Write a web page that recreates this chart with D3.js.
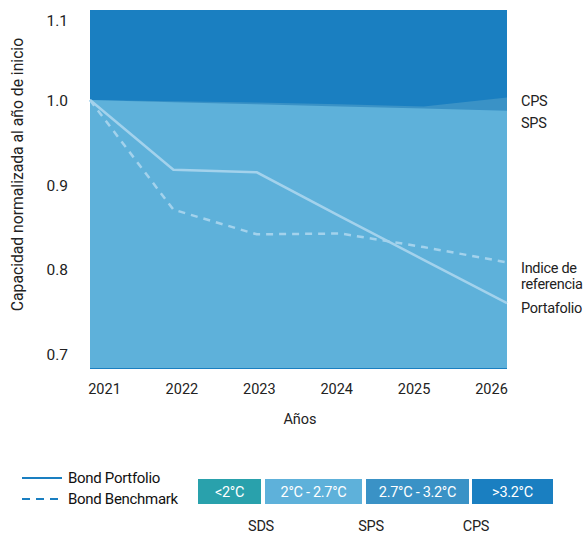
<!DOCTYPE html>
<html>
<head>
<meta charset="utf-8">
<script src="https://cdn.jsdelivr.net/npm/d3@7"></script>
<style>
  body { margin: 0; background: #fff; }
  text { font-family: Roboto, sans-serif; }
</style>
</head>
<body>
<div id="chart"></div>
<script>
// values
const years = [2021, 2022, 2023, 2024, 2025, 2026];
const portfolio = [1.0, 0.918, 0.915, 0.863, 0.812, 0.761];
const benchmark = [1.0, 0.871, 0.842, 0.843, 0.827, 0.809];
const spsPath = [1.0, 0.9975, 0.995, 0.9925, 0.990, 0.9875];
const cpsPath = [1.0, 0.9985, 0.997, 0.995, 0.9925, 1.003];
const yTicks = [0.7, 0.8, 0.9, 1.0, 1.1];
const yDomain = [0.6835, 1.106];
const bands = ['<2°C', '2°C - 2.7°C', '2.7°C - 3.2°C', '>3.2°C'];
const bandColors = ['#29a1ac', '#5eb1da', '#3a92c6', '#1a7fc1'];
const scenarioLabels = ['SDS', 'SPS', 'CPS'];

const width = 585, height = 536;
const margin = {top: 10, right: 78, bottom: 167, left: 90};
const lineColor = '#a3d2ec';

const svg = d3.select('#chart').append('svg')
  .attr('width', width).attr('height', height);

const x = d3.scaleLinear()
  .domain(d3.extent(years))
  .range([margin.left, width - margin.right]);
// tick labels sit inset from the plot edges
const xLab = d3.scaleLinear()
  .domain(d3.extent(years))
  .range([104, 491]);
const y = d3.scaleLinear()
  .domain(yDomain)
  .range([height - margin.bottom, margin.top]);

const rows = years.map((yr, i) => ({yr, p: portfolio[i], b: benchmark[i], sps: spsPath[i], cps: cpsPath[i]}));

// background = >3.2°C
svg.append('rect')
  .attr('x', x(2021)).attr('y', y(yDomain[1]))
  .attr('width', x(2026) - x(2021))
  .attr('height', y(yDomain[0]) - y(yDomain[1]))
  .attr('fill', bandColors[3]);

// CPS band
svg.append('path')
  .datum(rows)
  .attr('fill', bandColors[2])
  .attr('d', d3.area().x(d => x(d.yr)).y0(y(yDomain[0]) - 1).y1(d => y(d.cps)));

// SPS band
svg.append('path')
  .datum(rows)
  .attr('fill', bandColors[1])
  .attr('d', d3.area().x(d => x(d.yr)).y0(y(yDomain[0]) - 1).y1(d => y(d.sps)));

// lines
svg.append('path')
  .datum(rows)
  .attr('fill', 'none')
  .attr('stroke', lineColor)
  .attr('stroke-width', 2.5)
  .attr('d', d3.line().x(d => x(d.yr)).y(d => y(d.p)));

svg.append('path')
  .datum(rows)
  .attr('fill', 'none')
  .attr('stroke', lineColor)
  .attr('stroke-width', 2.5)
  .attr('stroke-dasharray', '7,6')
  .attr('stroke-linejoin', 'round')
  .attr('d', d3.line().x(d => x(d.yr)).y(d => y(d.b)));

// y axis (labels only)
const yAxis = svg.append('g')
  .attr('transform', `translate(${margin.left},0)`)
  .call(d3.axisLeft(y).tickValues(yTicks).tickSize(0).tickPadding(22).tickFormat(d3.format('.1f')));
yAxis.select('.domain').remove();
yAxis.selectAll('text')
  .attr('font-family', '"Open Sans", sans-serif')
  .attr('font-size', 15.5)
  .attr('fill', '#222');
// top label is pushed down inside the frame
yAxis.selectAll('.tick')
  .filter(d => d === 1.1)
  .attr('transform', `translate(0,${Math.max(y(1.1), 21)})`);

// x axis labels
const xAxis = svg.append('g')
  .attr('transform', `translate(0,${y(yDomain[0]) + 12})`)
  .call(d3.axisBottom(xLab).tickValues(years).tickSize(0).tickFormat(d3.format('d')));
xAxis.select('.domain').remove();
xAxis.selectAll('text')
  .attr('font-family', 'Roboto, sans-serif')
  .attr('font-size', 14.5)
  .attr('fill', '#222');

// axis titles
svg.append('text')
  .attr('transform', `translate(23,${(y(yDomain[1]) + y(yDomain[0])) / 2 - 15}) rotate(-90)`)
  .attr('text-anchor', 'middle')
  .attr('font-family', '"Open Sans", sans-serif')
  .attr('font-size', 15.7)
  .attr('fill', '#222')
  .text('Capacidad normalizada al año de inicio');

svg.append('text')
  .attr('x', 300).attr('y', 424)
  .attr('text-anchor', 'middle')
  .attr('font-size', 14.5)
  .attr('fill', '#222')
  .text('Años');

// right-hand labels
const rightLabels = [
  {t: 'CPS', y: 106},
  {t: 'SPS', y: 128},
  {t: 'Indice de', y: 273},
  {t: 'referencia', y: 289},
  {t: 'Portafolio', y: 313}
];
svg.append('g').selectAll('text')
  .data(rightLabels)
  .join('text')
  .attr('x', 521)
  .attr('y', d => d.y)
  .attr('font-size', 14.5)
  .attr('letter-spacing', -0.3)
  .attr('fill', '#222')
  .text(d => d.t);

// legend for the lines
const leg = svg.append('g');
[{t: 'Bond Portfolio', dash: null, y: 478}, {t: 'Bond Benchmark', dash: '8,6', y: 499}].forEach(d => {
  leg.append('line')
    .attr('x1', 22).attr('x2', 62)
    .attr('y1', d.y).attr('y2', d.y)
    .attr('stroke', '#1a7fc1')
    .attr('stroke-width', 2)
    .attr('stroke-dasharray', d.dash);
  leg.append('text')
    .attr('x', 68).attr('y', d.y + 5)
    .attr('font-size', 15)
    .attr('letter-spacing', -0.3)
    .attr('fill', '#111')
    .text(d.t);
});

// legend for temperature bands
const boxes = [
  {x0: 198, x1: 261},
  {x0: 265, x1: 362},
  {x0: 366, x1: 469},
  {x0: 472, x1: 553}
];
const bandG = svg.append('g');
bands.forEach((b, i) => {
  bandG.append('rect')
    .attr('x', boxes[i].x0).attr('y', 479)
    .attr('width', boxes[i].x1 - boxes[i].x0).attr('height', 25)
    .attr('fill', bandColors[i]);
  bandG.append('text')
    .attr('x', (boxes[i].x0 + boxes[i].x1) / 2).attr('y', 497)
    .attr('text-anchor', 'middle')
    .attr('font-size', 14.5)
    .attr('letter-spacing', -0.3)
    .attr('fill', '#fff')
    .text(b);
});

const scenX = [261, 371, 476];
bandG.selectAll('text.scen')
  .data(scenarioLabels)
  .join('text')
  .attr('class', 'scen')
  .attr('x', (d, i) => scenX[i]).attr('y', 531)
  .attr('text-anchor', 'middle')
  .attr('font-size', 14.5)
  .attr('letter-spacing', -0.3)
  .attr('fill', '#222')
  .text(d => d);
</script>
</body>
</html>
